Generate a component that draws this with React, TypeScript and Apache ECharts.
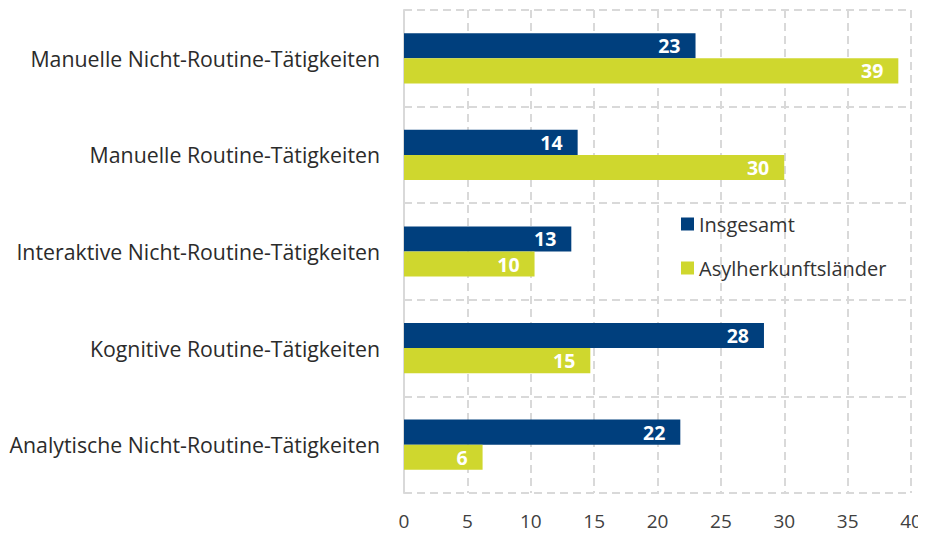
import React, { useEffect, useRef } from "react";
import * as echarts from "echarts";

const categories = [
  "Analytische Nicht-Routine-Tätigkeiten",
  "Kognitive Routine-Tätigkeiten",
  "Interaktive Nicht-Routine-Tätigkeiten",
  "Manuelle Routine-Tätigkeiten",
  "Manuelle Nicht-Routine-Tätigkeiten",
];
const insgesamt = [21.8, 28.4, 13.2, 13.7, 23.0];
const asyl = [6.2, 14.7, 10.3, 30.0, 39.0];
const seriesNames = ["Insgesamt", "Asylherkunftsländer"];

const FONT = "'Open Sans', sans-serif";
const GRID_COLOR = "#d9d9d9";

export default function App() {
  const ref = useRef<HTMLDivElement>(null);
  useEffect(() => {
    if (!ref.current) return;
    const chart = echarts.init(ref.current, null, { renderer: "svg" });
    const label = {
      show: true,
      position: "insideRight",
      distance: 15,
      color: "#ffffff",
      fontWeight: "bold",
      fontSize: 19.5,
      fontFamily: FONT,
      formatter: (p: any) => String(Math.round(p.value)),
    };
    chart.setOption({
      animation: false,
      backgroundColor: "#ffffff",
      grid: { left: 404, right: 15, top: 10, bottom: 43, containLabel: false },
      legend: {
        data: seriesNames,
        orient: "vertical",
        left: 676,
        top: 209,
        itemWidth: 13,
        itemHeight: 13,
        itemGap: 24,
        icon: "rect",
        textStyle: { fontSize: 20, color: "#333333", fontFamily: FONT },
      },
      xAxis: {
        type: "value",
        min: 0,
        max: 40,
        interval: 5,
        axisLine: { show: false },
        axisTick: { show: false },
        axisLabel: {
          fontSize: 19,
          color: "#404040",
          fontFamily: FONT,
          margin: 18,
          lineHeight: 19,
        },
        splitLine: { show: true, lineStyle: { color: GRID_COLOR, width: 2, type: [8, 5] } },
      },
      yAxis: {
        type: "category",
        data: categories,
        axisLine: { show: true, lineStyle: { color: GRID_COLOR, width: 2 } },
        axisTick: { show: false },
        axisLabel: { fontSize: 21.3, color: "#2b2b2b", fontFamily: FONT, margin: 24 },
        splitLine: { show: true, lineStyle: { color: GRID_COLOR, width: 2, type: [8, 5] } },
      },
      series: [
        {
          name: seriesNames[0],
          type: "bar",
          data: insgesamt,
          barGap: "0%",
          barCategoryGap: "48%",
          itemStyle: { color: "#003f7d" },
          label,
        },
        {
          name: seriesNames[1],
          type: "bar",
          data: asyl,
          barGap: "0%",
          barCategoryGap: "48%",
          itemStyle: { color: "#cfd72e" },
          label,
        },
      ],
    });
    return () => chart.dispose();
  }, []);
  return <div ref={ref} style={{ width: 926, height: 536, margin: -8 }} />;
}
